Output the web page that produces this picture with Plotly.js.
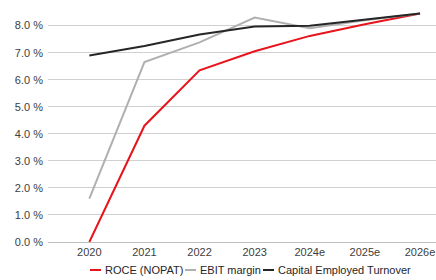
<!DOCTYPE html>
<html><head><meta charset="utf-8">
<script src="https://cdn.plot.ly/plotly-3.0.1.min.js"></script>
<style>html,body{margin:0;padding:0;background:#fff}#c{width:436px;height:280px}</style>
</head><body><div id="c"></div>
<script>
var years = ['2020','2021','2022','2023','2024e','2025e','2026e'];
var roce = [0.0, 4.3, 6.35, 7.05, 7.62, 8.05, 8.45];
var ebitMargin = [1.6, 6.65, 7.38, 8.3, 7.9, 8.2, 8.45];
var capTurnover = [6.9, 7.25, 7.67, 7.97, 8.0, 8.22, 8.45];
var seriesNames = ['ROCE (NOPAT)', 'EBIT margin', 'Capital Employed Turnover'];
var seriesColors = ['#e8141c', '#b0b0b0', '#262626'];
var yTicks = [0,1,2,3,4,5,6,7,8];
var yTickText = ['0.0 %','1.0 %','2.0 %','3.0 %','4.0 %','5.0 %','6.0 %','7.0 %','8.0 %'];

var seriesData = [roce, ebitMargin, capTurnover];
var traces = seriesData.map(function (d, i) {
  return {x: years, y: d, name: seriesNames[i], type: 'scatter', mode: 'lines',
          line: {color: seriesColors[i], width: 2}, showlegend: false};
});

// manual legend (pixel layout converted to paper coords)
var L = 48, W = 388, T = 4, H = 238;
function px(x) { return (x - L) / W; }
function py(y) { return (T + H - y) / H; }
var legendStarts = [90, 185, 263];
var legendY = 270;
var shapes = [], annotations = [];
seriesNames.forEach(function (n, i) {
  var x0 = legendStarts[i];
  shapes.push({type: 'line', xref: 'paper', yref: 'paper', x0: px(x0), x1: px(x0 + 11),
               y0: py(legendY), y1: py(legendY), line: {color: seriesColors[i], width: 2}});
  annotations.push({xref: 'paper', yref: 'paper', x: px(x0 + 13), y: py(legendY),
                    xanchor: 'left', yanchor: 'middle', text: n, showarrow: false,
                    font: {size: 11, color: '#262626'}});
});

var layout = {
  width: 436, height: 280,
  margin: {l: L, r: 436 - L - W, t: T, b: 280 - T - H},
  paper_bgcolor: '#fff', plot_bgcolor: '#fff',
  font: {family: 'Liberation Sans, Arial, sans-serif', size: 11, color: '#404040'},
  showlegend: false,
  shapes: shapes, annotations: annotations,
  xaxis: {type: 'category', range: [-0.75, 6.29], showgrid: false, zeroline: false, showline: true, linecolor: '#c0c0c0', linewidth: 1, ticks: '', tickfont: {size: 11, color: '#404040'}, fixedrange: true, automargin: false},
  yaxis: {range: [0, 8.8], tickvals: yTicks, ticktext: yTickText, showgrid: true, gridcolor: '#d0d0d0', gridwidth: 1, zeroline: false, showline: false, ticks: '', ticklabelstandoff: 4, tickfont: {size: 11, color: '#404040'}, fixedrange: true, automargin: false}
};
Plotly.newPlot('c', traces, layout, {displayModeBar: false, staticPlot: true});
</script></body></html>
